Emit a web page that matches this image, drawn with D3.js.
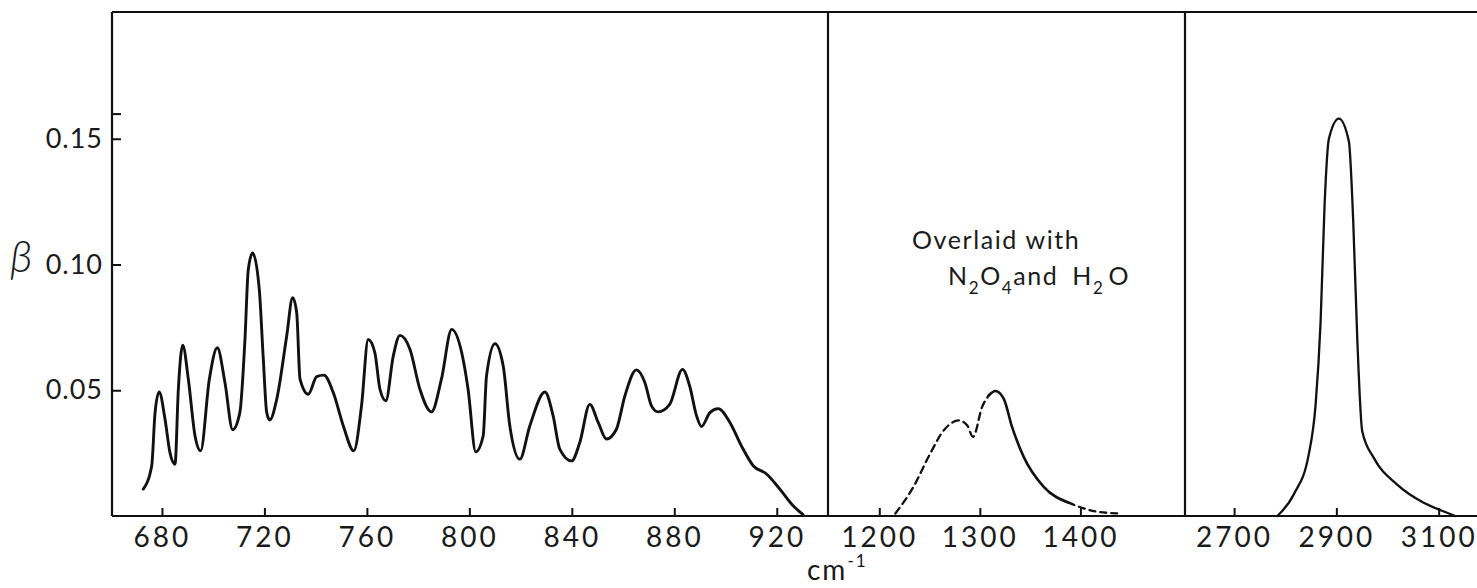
<!DOCTYPE html>
<html>
<head>
<meta charset="utf-8">
<script src="https://cdnjs.cloudflare.com/ajax/libs/d3/7.8.5/d3.min.js"></script>
<style>
  html, body { margin: 0; padding: 0; background: #fff; }
  svg { display: block; }
  .lbl { font-family: Lato, "DejaVu Sans", sans-serif; font-weight: 400; fill: #1a1a1a; }
  .tick text { font-family: Lato, "DejaVu Sans", sans-serif; font-weight: 400; fill: #1a1a1a; }
</style>
</head>
<body>
<div id="chart"></div>
<script>
// ---- data ----
// panel 1: 670-940 cm-1
const p1Wave = [672.7, 676, 677.3, 678.9, 681.2, 683.1, 685.1, 686.4, 688.1, 690.3, 692.9, 695.1,
  698.5, 701.6, 704.6, 707.6, 710.4, 712.4, 713.7, 715.4, 718, 719.5, 720.9, 722.1, 724.8, 728.7,
  731, 732.6, 733.9, 737.1, 740.4, 743.2, 746.9, 750.8, 754.9, 757.9, 760.5, 763.1, 765.1, 767.4,
  770.3, 772.9, 776.8, 780.7, 785.2, 789.1, 793.1, 797, 799.5, 802.5, 805.4, 806.7, 810, 813.2,
  815.8, 819.7, 823.6, 829.5, 832.7, 835.3, 839.9, 843.1, 847, 850.3, 853.5, 857.4, 860.7, 865.2,
  868.5, 871.1, 873.7, 878.2, 883.2, 886, 888.7, 890.6, 893.9, 897.1, 901.7, 906.2, 910.8, 916,
  921.2, 926.4, 930.3];
const p1Beta = [0.0107, 0.020, 0.041, 0.0493, 0.0385, 0.0253, 0.0206, 0.0504, 0.0679, 0.0544, 0.0319, 0.0259,
  0.0544, 0.0669, 0.0530, 0.0343, 0.0411, 0.0702, 0.098, 0.1046, 0.090, 0.0636, 0.0411, 0.0382, 0.0464, 0.0716,
  0.0868, 0.0808, 0.0544, 0.0484, 0.0554, 0.056, 0.049, 0.0358, 0.0259, 0.0438, 0.0702, 0.065, 0.0504, 0.0458,
  0.0636, 0.0718, 0.0663, 0.0504, 0.0414, 0.0544, 0.0742, 0.065, 0.0504, 0.0255, 0.0319, 0.0557, 0.0685, 0.0597,
  0.0358, 0.0226, 0.0358, 0.0493, 0.0398, 0.0266, 0.0219, 0.0292, 0.0444, 0.0372, 0.0306, 0.0345, 0.0477, 0.0581,
  0.0531, 0.0438, 0.0414, 0.0444, 0.0583, 0.0517, 0.0398, 0.0356, 0.0411, 0.0427, 0.0372, 0.0279, 0.020, 0.0167,
  0.0107, 0.0041, 0.0005];

// panel 2: 1150-1500 cm-1, dashed where overlaid
const p2DashLeftWave = [1216, 1234, 1250.7, 1264, 1279, 1287.3, 1293.2, 1302.3, 1309];
const p2DashLeftBeta = [0.001, 0.0116, 0.0249, 0.034, 0.038, 0.0361, 0.0315, 0.0434, 0.0480];
const p2SolidWave = [1309, 1315.4, 1323.7, 1332, 1343.6, 1363.5, 1388.4];
const p2SolidBeta = [0.0480, 0.0497, 0.0467, 0.0354, 0.0235, 0.0116, 0.0053];
const p2DashRightWave = [1388.4, 1398.3, 1416.6, 1440];
const p2DashRightBeta = [0.0053, 0.0037, 0.0017, 0.001];

// panel 3: 2600-3175 cm-1
const p3Wave = [2784.6, 2817, 2846, 2859.4, 2869.2, 2877, 2885.4, 2904.9, 2924.4, 2933, 2940.8,
  2950.6, 2973.2, 3018.9, 3070.7, 3105, 3132.6];
const p3Beta = [0, 0.0087, 0.0245, 0.0443, 0.0774, 0.124, 0.150, 0.158, 0.149, 0.117, 0.0709,
  0.0337, 0.0231, 0.0125, 0.0053, 0.0022, 0];

const p1Ticks = [680, 720, 760, 800, 840, 880, 920];
const p2Ticks = [1200, 1300, 1400];
const p3Ticks = [2700, 2900, 3100];
const yTicks = [0.05, 0.10, 0.15, 0.16];
const yTickLabels = ['0.05', '0.10', '0.15', ''];

// ---- layout ----
const W = 1477, H = 588;
const plotLeft = 112, plotTop = 12, plotBottom = 516, div1 = 828, div2 = 1185, plotRight = W;

const svg = d3.select('#chart').append('svg')
  .attr('width', W)
  .attr('height', H);

const y = d3.scaleLinear().domain([0, 0.2]).range([plotBottom, plotTop + 1]);

const x1 = d3.scaleLinear().domain([660.5, 940]).range([plotLeft, div1]);
const x2 = d3.scaleLinear().domain([1149, 1504]).range([div1, div2]);
const x3 = d3.scaleLinear().domain([2604, 3175]).range([div2, plotRight]);

const ink = '#111';

// x axes (inward ticks)
function xAxis(scale, ticks) {
  const g = svg.append('g')
    .attr('transform', `translate(0,${plotBottom})`)
    .call(d3.axisBottom(scale).tickValues(ticks).tickSizeInner(-8).tickSizeOuter(0).tickPadding(11).tickFormat(d3.format('d')));
  g.select('.domain').remove();
  g.selectAll('.tick line').attr('stroke', ink).attr('stroke-width', 2);
  g.selectAll('.tick text')
    .style('font-size', '28px')
    .style('letter-spacing', '3px');
  return g;
}
xAxis(x1, p1Ticks);
xAxis(x2, p2Ticks);
xAxis(x3, p3Ticks);

// y axis
const yg = svg.append('g')
  .attr('transform', `translate(${plotLeft},0)`)
  .call(d3.axisLeft(y).tickValues(yTicks).tickSizeInner(-9).tickSizeOuter(0).tickPadding(9)
    .tickFormat((d, i) => yTickLabels[i]));
yg.select('.domain').remove();
yg.selectAll('.tick line').attr('stroke', ink).attr('stroke-width', 2);
yg.selectAll('.tick text').style('font-size', '27px').style('letter-spacing', '1px');

// frame and panel dividers
const frame = svg.append('g').attr('stroke', ink).attr('stroke-width', 2.2).attr('fill', 'none');
frame.append('line').attr('x1', plotLeft).attr('x2', plotRight).attr('y1', plotTop).attr('y2', plotTop);
frame.append('line').attr('x1', plotLeft).attr('x2', plotRight).attr('y1', plotBottom).attr('y2', plotBottom);
frame.append('line').attr('x1', plotLeft).attr('x2', plotLeft).attr('y1', plotTop).attr('y2', plotBottom);
frame.append('line').attr('x1', div1).attr('x2', div1).attr('y1', plotTop).attr('y2', plotBottom);
frame.append('line').attr('x1', div2).attr('x2', div2).attr('y1', plotTop).attr('y2', plotBottom);

// curves
function drawCurve(xs, ys, scale, width, dash) {
  const pts = xs.map((v, i) => [v, ys[i]]);
  const line = d3.line()
    .x(d => scale(d[0]))
    .y(d => y(d[1]))
    .curve(d3.curveMonotoneX);
  svg.append('path')
    .datum(pts)
    .attr('d', line)
    .attr('fill', 'none')
    .attr('stroke', ink)
    .attr('stroke-width', width)
    .attr('stroke-linejoin', 'round')
    .attr('stroke-linecap', 'round')
    .attr('stroke-dasharray', dash || null);
}
drawCurve(p1Wave, p1Beta, x1, 2.9);
drawCurve(p2DashLeftWave, p2DashLeftBeta, x2, 2.3, '7,5');
drawCurve(p2SolidWave, p2SolidBeta, x2, 2.6);
drawCurve(p2DashRightWave, p2DashRightBeta, x2, 2.3, '6,5');
drawCurve(p3Wave, p3Beta, x3, 2.3);

// labels
svg.append('text').attr('class', 'lbl')
  .attr('x', 10).attr('y', 272)
  .style('font-style', 'italic')
  .style('font-weight', 300)
  .style('font-size', '44px')
  .text('β');

svg.append('text').attr('class', 'lbl')
  .attr('x', 807).attr('y', 580)
  .style('font-size', '28px')
  .style('letter-spacing', '2px')
  .text('cm')
  .append('tspan')
  .attr('dy', -13)
  .style('font-size', '17px')
  .text('-1');

svg.append('text').attr('class', 'lbl')
  .attr('x', 912).attr('y', 249)
  .style('font-size', '25px')
  .style('letter-spacing', '1.6px')
  .text('Overlaid with');

const note = svg.append('text').attr('class', 'lbl')
  .attr('x', 948).attr('y', 285)
  .style('font-size', '25px')
  .style('letter-spacing', '1.6px');
note.append('tspan').text('N');
note.append('tspan').attr('dy', 9).style('font-size', '17px').text('2');
note.append('tspan').attr('dy', -9).text('O');
note.append('tspan').attr('dy', 9).style('font-size', '17px').text('4');
note.append('tspan').attr('dy', -9).text('and');
note.append('tspan').attr('dx', 14).text('H');
note.append('tspan').attr('dy', 9).style('font-size', '17px').text('2');
note.append('tspan').attr('dy', -9).attr('dx', 4).text('O');
</script>
</body>
</html>
